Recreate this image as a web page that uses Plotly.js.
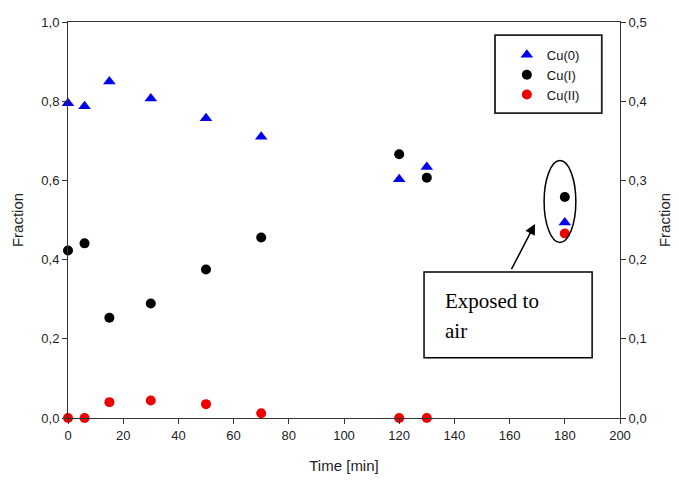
<!DOCTYPE html>
<html>
<head>
<meta charset="utf-8">
<script src="https://cdn.plot.ly/plotly-3.0.1.min.js"></script>
<style>html,body{margin:0;padding:0;background:#fff;}#chart{width:679px;height:481px;}</style>
</head>
<body>
<div id="chart"></div>
<script>
// Data
const timeMin = [0, 6, 15, 30, 50, 70, 120, 130, 180];
const cu0 = [0.795, 0.787, 0.85, 0.807, 0.757, 0.71, 0.603, 0.634, 0.494];   // left axis
const cu1 = [0.423, 0.441, 0.253, 0.289, 0.375, 0.456, 0.666, 0.607, 0.558]; // left axis
const cu2 = [0.0, 0.0, 0.020, 0.022, 0.0175, 0.006, 0.0, 0.0, 0.233];       // right axis
const seriesNames = ["Cu(0)", "Cu(I)", "Cu(II)"];
const xTicks = [0, 20, 40, 60, 80, 100, 120, 140, 160, 180, 200];

const axisColor = "#333";
const tickFont = {family: "Liberation Sans, Arial, sans-serif", size: 13, color: "#222"};
const titleFont = {family: "Liberation Sans, Arial, sans-serif", size: 15, color: "#222"};

const traces = [
  {x: timeMin, y: cu0, name: seriesNames[0], type: "scatter", mode: "markers",
   marker: {symbol: "triangle-up", size: 11, color: "#0000ee"}, cliponaxis: false},
  {x: timeMin, y: cu1, name: seriesNames[1], type: "scatter", mode: "markers",
   marker: {symbol: "circle", size: 10, color: "#000"}, cliponaxis: false},
  {x: timeMin, y: cu2, name: seriesNames[2], type: "scatter", mode: "markers", yaxis: "y2",
   marker: {symbol: "circle", size: 10, color: "#ee0000"}, cliponaxis: false}
];

const layout = {
  width: 679, height: 481,
  margin: {l: 68, r: 59, t: 22, b: 63},
  separators: ",.",
  paper_bgcolor: "#fff", plot_bgcolor: "#fff",
  showlegend: true,
  legend: {x: 0.795, y: 0.955, xanchor: "left", yanchor: "top",
           bgcolor: "rgba(0,0,0,0)", borderwidth: 0,
           font: {family: "Liberation Sans, Arial, sans-serif", size: 13, color: "#111"},
           tracegroupgap: 0},
  xaxis: {range: [0, 200], tickvals: xTicks, ticks: "outside", ticklen: 5, tickcolor: axisColor,
          showline: true, linecolor: axisColor, linewidth: 1, mirror: true, showgrid: false, zeroline: false,
          tickfont: tickFont, title: {text: "Time [min]", font: titleFont, standoff: 18}},
  yaxis: {range: [0, 1], dtick: 0.2, tickformat: ".1f", ticks: "outside", ticklen: 5, tickcolor: axisColor,
          showline: true, linecolor: axisColor, linewidth: 1, showgrid: false, zeroline: false,
          tickfont: tickFont, title: {text: "Fraction", font: titleFont, standoff: 14}},
  yaxis2: {range: [0, 0.5], dtick: 0.1, tickformat: ".1f", overlaying: "y", side: "right",
           ticks: "outside", ticklen: 5, tickcolor: axisColor,
           showline: true, linecolor: axisColor, linewidth: 1, showgrid: false, zeroline: false,
           tickfont: tickFont, title: {text: "Fraction", font: titleFont, standoff: 13}},
  shapes: [
    {type: "rect", xref: "paper", yref: "paper", x0: 0.7736, x1: 0.967, y0: 0.770, y1: 0.967,
     line: {color: "#222", width: 1.8}, fillcolor: "rgba(0,0,0,0)"},
    {type: "circle", xref: "x", yref: "y", x0: 172.5, x1: 184, y0: 0.443, y1: 0.65,
     line: {color: "#000", width: 1.5}},
    {type: "rect", xref: "x", yref: "y", x0: 129, x1: 189.9, y0: 0.152, y1: 0.369,
     line: {color: "#000", width: 1.5}, fillcolor: "#fff"}
  ],
  annotations: [
    {x: 169.2, y: 0.49, ax: 160.4, ay: 0.372, xref: "x", yref: "y", axref: "x", ayref: "y",
     text: "", showarrow: true, arrowhead: 2, arrowsize: 1.4, arrowwidth: 1.5, arrowcolor: "#000"},
    {x: 135.9, y: 0.332, xref: "x", yref: "y", xanchor: "left", yanchor: "top", align: "left",
     text: "Exposed to", showarrow: false,
     font: {family: "Liberation Serif, Times New Roman, serif", size: 21, color: "#000"}},
    {x: 135.9, y: 0.254, xref: "x", yref: "y", xanchor: "left", yanchor: "top", align: "left",
     text: "air", showarrow: false,
     font: {family: "Liberation Serif, Times New Roman, serif", size: 21, color: "#000"}}
  ]
};
Plotly.newPlot("chart", traces, layout, {displayModeBar: false, staticPlot: true});
</script>
</body>
</html>
